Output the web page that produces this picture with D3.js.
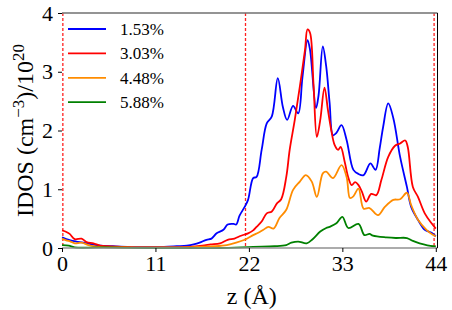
<!DOCTYPE html>
<html>
<head>
<meta charset="utf-8">
<script src="https://cdn.jsdelivr.net/npm/d3@7"></script>
<style>
  body { margin: 0; background: #fff; }
  svg text { font-family: "Liberation Serif", "DejaVu Serif", serif; fill: #000; }
</style>
</head>
<body>
<svg id="chart" width="452" height="310"></svg>
<script>
// IDOS profiles along z, [z (Å), value] pairs
const seriesNames = ["1.53%", "3.03%", "4.48%", "5.88%"];
const seriesColors = ["#0000ff", "#ff0000", "#ff8c00", "#008000"];

const blue = [[0,0.18],[0.5,0.15],[1,0.13],[1.7,0.11],[2.5,0.09],[3.5,0.06],[4.5,0.04],[6,0.03],[8,0.02],[10,0.02],[12,0.02],[13.5,0.03],[14.7,0.04],[15.5,0.06],[16.2,0.09],[17,0.14],[17.6,0.16],[18.2,0.25],[19,0.31],[19.5,0.40],[20.2,0.41],[20.5,0.40],[20.9,0.55],[21.5,0.70],[21.9,0.82],[22.5,1.19],[22.9,1.21],[23.5,1.67],[24.1,2.12],[24.7,2.24],[25.4,2.89],[26.0,2.40],[26.5,2.18],[27.2,2.42],[27.8,2.29],[28.3,2.9],[28.9,3.54],[29.2,3.37],[29.9,2.38],[30.2,2.6],[30.7,3.43],[31.1,3.09],[31.5,2.47],[31.9,1.92],[32.3,1.96],[32.9,2.09],[33.5,1.84],[34.3,1.33],[34.9,1.26],[35.5,1.24],[36.3,1.44],[36.9,1.33],[37.4,1.7],[37.8,2.06],[38.4,2.46],[39.0,2.21],[39.8,1.55],[40.6,1.04],[41.1,0.70],[41.9,0.48],[42.7,0.31],[43.5,0.26],[44,0.2]];

const red = [[0,0.30],[0.4,0.28],[0.9,0.24],[1.5,0.15],[2.3,0.16],[2.9,0.10],[3.7,0.08],[4.5,0.04],[5.5,0.03],[7,0.02],[9,0.01],[11,0.01],[13,0.01],[15,0.02],[16.5,0.04],[17.5,0.06],[18.6,0.08],[19.5,0.14],[20.3,0.16],[20.9,0.20],[21.5,0.23],[21.9,0.25],[22.5,0.30],[22.9,0.36],[23.5,0.45],[24.1,0.59],[24.7,0.62],[25.3,0.76],[25.8,0.83],[26.4,1.21],[26.8,1.67],[27.4,2.18],[28.0,2.75],[28.6,3.37],[28.9,3.72],[29.2,3.66],[29.6,2.80],[30.0,1.89],[30.4,2.18],[30.9,2.73],[31.3,2.35],[31.7,2.0],[32.1,1.75],[32.5,1.67],[32.8,1.72],[33.3,1.45],[33.7,1.2],[34.1,1.07],[34.5,1.12],[34.9,1.07],[35.3,0.96],[35.8,0.79],[36.4,0.92],[37.0,0.90],[37.6,1.16],[38.4,1.55],[39.2,1.74],[39.8,1.78],[40.4,1.83],[40.7,1.72],[41.3,1.04],[41.9,0.87],[42.7,0.59],[43.5,0.42],[44,0.33]];

const orange = [[0,0.16],[0.5,0.13],[1,0.11],[1.5,0.08],[2.3,0.09],[3.1,0.05],[4.2,0.02],[6,0.01],[10,0.01],[14,0.01],[16,0.02],[18,0.03],[19.4,0.05],[20.5,0.09],[21.5,0.14],[22.5,0.22],[23.1,0.26],[23.7,0.31],[24.3,0.36],[24.9,0.33],[25.6,0.51],[26.4,0.65],[27.2,0.99],[28.0,1.13],[28.7,1.24],[29.4,1.13],[30.0,0.87],[30.7,1.27],[31.1,1.30],[31.9,1.19],[32.9,1.41],[33.5,1.21],[33.9,0.85],[34.3,0.88],[34.9,1.01],[35.5,0.67],[36.2,0.68],[37.2,0.56],[38.0,0.70],[39.0,0.82],[39.8,0.83],[40.6,0.94],[41.1,0.73],[41.9,0.48],[42.9,0.31],[43.7,0.22],[44,0.2]];

const green = [[0,0.05],[0.8,0.04],[1.5,0.01],[5,0.01],[10,0.0],[15,0.0],[18.6,0.0],[22.5,0.02],[25,0.03],[26.4,0.05],[27.0,0.09],[27.8,0.11],[28.8,0.08],[29.5,0.15],[30.4,0.28],[31.1,0.34],[31.5,0.36],[32.3,0.42],[33.0,0.53],[33.7,0.34],[34.9,0.41],[35.6,0.22],[36.2,0.24],[36.6,0.21],[38.2,0.18],[39.3,0.17],[40.6,0.17],[41.3,0.12],[42.1,0.08],[43.7,0.03],[44,0.03]];

const xTicks = [0, 11, 22, 33, 44];
const yTicks = [0, 1, 2, 3, 4];
const boundaries = [0.1, 21.6, 43.8];   // red dashed lines

const svg = d3.select("#chart");
const margin = { top: 13, right: 14.5, bottom: 62, left: 62 };
const width = +svg.attr("width");
const height = +svg.attr("height");

const x = d3.scaleLinear().domain([0, 44.2]).range([margin.left, width - margin.right]);
const y = d3.scaleLinear().domain([0, 4]).range([height - margin.bottom, margin.top]);

const allSeries = [blue, red, orange, green];

// boundary lines
svg.append("g")
  .selectAll("line")
  .data(boundaries)
  .join("line")
  .attr("x1", d => x(d)).attr("x2", d => x(d))
  .attr("y1", y(4)).attr("y2", y(0))
  .attr("stroke", "#ff2020")
  .attr("stroke-width", 1.3)
  .attr("stroke-dasharray", "3,2");

const line = d3.line()
  .x(d => x(d[0]))
  .y(d => y(d[1]))
  .curve(d3.curveCatmullRom.alpha(0.5));

svg.append("g")
  .selectAll("path")
  .data(allSeries)
  .join("path")
  .attr("d", line)
  .attr("fill", "none")
  .attr("stroke", (d, i) => seriesColors[i])
  .attr("stroke-width", 1.8)
  .attr("stroke-linejoin", "round");

// frame
const x0 = x.range()[0], x1 = x.range()[1];
const y0 = y.range()[0], y1 = y.range()[1];
svg.append("line").attr("x1", x0).attr("x2", x1).attr("y1", y1).attr("y2", y1)
  .attr("stroke", "#707070").attr("stroke-width", 1.5);
svg.append("line").attr("x1", x0).attr("x2", x1).attr("y1", y0).attr("y2", y0)
  .attr("stroke", "#909090").attr("stroke-width", 1.5);
svg.append("line").attr("x1", x1).attr("x2", x1).attr("y1", y1).attr("y2", y0)
  .attr("stroke", "#000").attr("stroke-width", 1);

const xAxis = svg.append("g")
  .attr("transform", `translate(0,${y0})`)
  .call(d3.axisBottom(x).tickValues(xTicks).tickFormat(d3.format("d")).tickSize(4).tickPadding(3));
const yAxis = svg.append("g")
  .attr("transform", `translate(${x0},0)`)
  .call(d3.axisLeft(y).tickValues(yTicks).tickFormat(d3.format("d")).tickSize(4).tickPadding(5));
[xAxis, yAxis].forEach(a => {
  a.select(".domain").remove();
  a.selectAll("text").style("font-family", "Liberation Serif").style("font-size", "22px");
  a.selectAll("line").attr("stroke", "#000");
});

// axis titles
svg.append("text")
  .attr("x", (x0 + x1) / 2 + 2)
  .attr("y", 304)
  .attr("text-anchor", "middle")
  .style("font-size", "24px")
  .text("z (Å)");

const yl = svg.append("text")
  .attr("transform", `translate(33,${(y0 + y1) / 2}) rotate(-90)`)
  .attr("text-anchor", "middle")
  .style("font-size", "24px");
yl.append("tspan").text("IDOS (cm");
yl.append("tspan").attr("dy", -9).style("font-size", "17px").text("−3");
yl.append("tspan").attr("dy", 9).text(")/10");
yl.append("tspan").attr("dy", -9).style("font-size", "17px").text("20");

// legend
const legend = svg.append("g")
  .selectAll("g")
  .data(seriesNames)
  .join("g")
  .attr("transform", (d, i) => `translate(68,${29 + i * 24.4})`);
legend.append("line")
  .attr("x1", 0).attr("x2", 38)
  .attr("stroke", (d, i) => seriesColors[i])
  .attr("stroke-width", 1.8);
legend.append("text")
  .attr("x", 52).attr("y", 6)
  .style("font-size", "17px")
  .text(d => d);
</script>
</body>
</html>
